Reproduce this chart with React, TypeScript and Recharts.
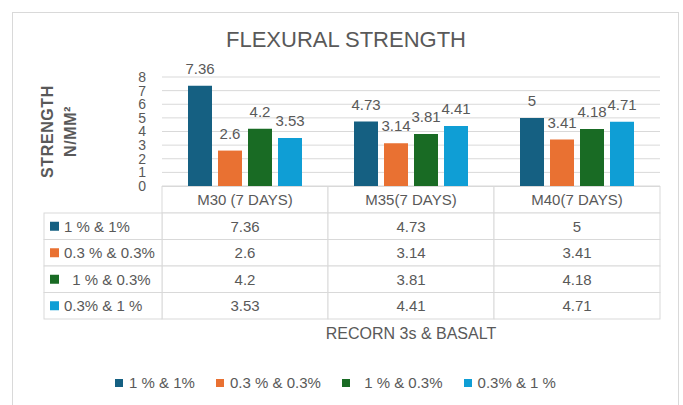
import { BarChart, Bar, XAxis, YAxis, CartesianGrid, LabelList, Label } from "recharts";

const categories = ["M30 (7 DAYS)", "M35(7 DAYS)", "M40(7 DAYS)"];
const seriesNames = ["1 % & 1%", "0.3 % & 0.3%", "  1 % & 0.3%", "0.3% & 1 %"];
const seriesColors = ["#156082", "#E97132", "#196B24", "#0F9ED5"];
const s1 = [7.36, 4.73, 5];
const s2 = [2.6, 3.14, 3.41];
const s3 = [4.2, 3.81, 4.18];
const s4 = [3.53, 4.41, 4.71];
const yTicks = [0, 1, 2, 3, 4, 5, 6, 7, 8];
const xTitle = "RECORN 3s & BASALT";

const series = [s1, s2, s3, s4];
const data = categories.map((c, i) => ({
  name: c,
  s1: s1[i],
  s2: s2[i],
  s3: s3[i],
  s4: s4[i],
}));

const FONT = "'Liberation Sans', Arial, sans-serif";
const TEXT = "#595959";
const LINE = "#d9d9d9";

const W = 683;
const H = 405;
const margin = { top: 77, right: 23, bottom: 60, left: 13 };
const yAxisWidth = 149;
const band = (W - margin.left - margin.right - yAxisWidth) / categories.length;
const rowH = 26.5;
const tableLeft = 44;

function TableTick(props: any) {
  const { x, y, payload } = props;
  const i = payload.index;
  const left = x - band / 2;
  const top = y + 0.5;
  return (
    <g fontFamily={FONT} fontSize={15} fill={TEXT}>
      <rect x={left} y={top} width={band} height={rowH} fill="#fff" stroke={LINE} />
      <text x={x} y={top + rowH / 2} textAnchor="middle" dominantBaseline="central" fill={TEXT}>
        {payload.value}
      </text>
      {series.map((s, r) => (
        <g key={r}>
          <rect x={left} y={top + rowH * (r + 1)} width={band} height={rowH} fill="#fff" stroke={LINE} />
          <text
            x={x}
            y={top + rowH * (r + 1.5)}
            textAnchor="middle"
            dominantBaseline="central"
            fill={TEXT}
          >
            {s[i]}
          </text>
        </g>
      ))}
      {i === 0 &&
        seriesNames.map((n, r) => (
          <g key={"l" + r}>
            <rect
              x={tableLeft}
              y={top + rowH * (r + 1)}
              width={left - tableLeft}
              height={rowH}
              fill="#fff"
              stroke={LINE}
            />
            <rect x={tableLeft + 6} y={top + rowH * (r + 1.5) - 4.5} width={9} height={9} fill={seriesColors[r]} />
            <text
              x={tableLeft + 20}
              y={top + rowH * (r + 1.5)}
              dominantBaseline="central"
              fill={TEXT}
              style={{ whiteSpace: "pre" }}
            >
              {n}
            </text>
          </g>
        ))}
    </g>
  );
}

function YTitle(props: any) {
  const vb = props.viewBox;
  const cy = vb.y + vb.height / 2;
  return (
    <g fontFamily={FONT} fontWeight="bold" fontSize={16} fill={TEXT} letterSpacing={0.6}>
      <text x={vb.x + 34} y={cy} textAnchor="middle" dominantBaseline="central" transform={`rotate(-90 ${vb.x + 34} ${cy})`}>
        STRENGTH
      </text>
      <text x={vb.x + 57} y={cy} textAnchor="middle" dominantBaseline="central" transform={`rotate(-90 ${vb.x + 57} ${cy})`}>
        N/MM²
      </text>
    </g>
  );
}

function XTitle(props: any) {
  const vb = props.viewBox;
  return (
    <text
      x={vb.x + vb.width / 2}
      y={vb.y + vb.height - 12}
      textAnchor="middle"
      dominantBaseline="central"
      fill={TEXT}
      fontSize={16}
      fontFamily={FONT}
    >
      {xTitle}
    </text>
  );
}

export default function App() {
  return (
    <div style={{ position: "absolute", left: 0, top: 0, width: W, height: H, background: "#fff", overflow: "hidden", fontFamily: FONT }}>
      <div style={{ position: "absolute", left: 12, top: 12, width: 665, height: 420, border: `1px solid ${LINE}` }} />
      <div
        style={{
          position: "absolute",
          left: 346,
          top: 29,
          transform: "translateX(-50%)",
          fontSize: 22,
          lineHeight: "22px",
          color: TEXT,
          whiteSpace: "nowrap",
        }}
      >
        FLEXURAL STRENGTH
      </div>
      <div style={{ position: "absolute", left: 0, top: 0 }}>
        <BarChart width={W} height={H} data={data} margin={margin} barCategoryGap={26} barGap={6}>
          <CartesianGrid vertical={false} stroke={LINE} />
          <XAxis
            dataKey="name"
            height={159}
            axisLine={false}
            tickLine={false}
            tickSize={0}
            tickMargin={0}
            interval={0}
            tick={<TableTick />}
          >
            <Label content={<XTitle />} />
          </XAxis>
          <YAxis
            width={yAxisWidth}
            domain={[0, 8]}
            ticks={yTicks}
            interval={0}
            axisLine={false}
            tickLine={false}
            tickSize={0}
            tickMargin={16}
            tick={{ fill: TEXT, fontSize: 14, fontFamily: FONT }}
          >
            <Label content={<YTitle />} />
          </YAxis>
          {series.map((_, k) => (
            <Bar key={k} dataKey={"s" + (k + 1)} name={seriesNames[k]} fill={seriesColors[k]} isAnimationActive={false}>
              <LabelList dataKey={"s" + (k + 1)} position="top" offset={12} fill={TEXT} fontSize={15} fontFamily={FONT} />
            </Bar>
          ))}
        </BarChart>
      </div>
      <div
        style={{
          position: "absolute",
          left: 0,
          width: W - 12,
          top: 375,
          display: "flex",
          justifyContent: "center",
          gap: 21,
          fontSize: 15,
          lineHeight: "16px",
          color: TEXT,
        }}
      >
        {seriesNames.map((n, k) => (
          <div key={k} style={{ display: "flex", alignItems: "center", whiteSpace: "pre" }}>
            <span style={{ display: "inline-block", width: 8, height: 8, background: seriesColors[k], marginRight: 6 }} />
            {n}
          </div>
        ))}
      </div>
    </div>
  );
}
